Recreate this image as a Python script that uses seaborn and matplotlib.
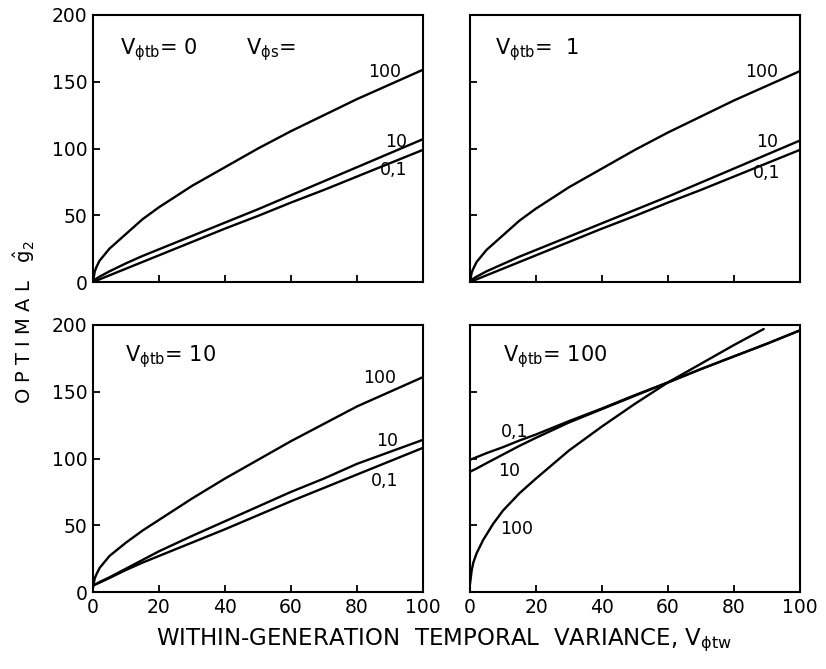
import numpy as np
import pandas as pd
import seaborn as sns
import matplotlib.pyplot as plt

sns.set_theme(style="ticks")
plt.rcParams['font.family'] = ['DejaVu Sans']
plt.rcParams['mathtext.fontset'] = 'dejavusans'
plt.rcParams['text.color'] = 'black'

# shared V_phi_tw grid
vtw = [0, 0.5, 1, 2, 5, 10, 15, 20, 30, 40, 50, 60, 70, 80, 90, 100]

# V_phi_tb = 0
tb0_s01 = [0, 0.5, 1, 2, 5, 10, 15, 20, 30, 40, 49.5, 59.5, 69, 79, 89, 99]
tb0_s10 = [0, 1.5, 2.5, 4, 8, 14, 19.5, 24.5, 34.5, 44.5, 54.5, 65, 75.5, 86, 96.5, 107]
tb0_s100 = [0, 7.5, 11, 16, 25, 36, 47, 56, 72, 86, 100, 113, 125, 137, 148, 159]

# V_phi_tb = 1
tb1_s01 = [0, 0.5, 1, 2, 5, 10, 15, 20, 30, 40, 49.5, 59.5, 69, 79, 89, 99]
tb1_s10 = [0, 1.5, 2.5, 4, 8, 13.5, 19, 24, 34, 44, 54, 64, 74.5, 85, 95.5, 106]
tb1_s100 = [0, 7, 10, 15, 24, 35, 46, 55, 71, 85, 99, 112, 124, 136, 147, 158]

# V_phi_tb = 10
tb10_s01 = [5, 5.5, 6, 7, 10.5, 16.5, 22, 27, 37, 47, 57.5, 68, 78, 88, 98, 108]
tb10_s10 = [5, 5.5, 6, 7.5, 11, 17.5, 24, 30.5, 42, 53, 64, 75, 85, 96, 105, 114]
tb10_s100 = [3, 10, 13, 18, 27, 37, 46, 54, 70, 85, 99, 113, 126, 139, 150, 161]

# V_phi_tb = 100
tb100_s01 = [99, 99.5, 100, 101, 104, 108.5, 113.5, 118, 128, 137.5, 147.5, 157, 167, 176.5, 186, 196]
tb100_s10 = [90, 90.7, 91.3, 92.5, 96.5, 103, 109.5, 115.5, 127, 137, 147, 157, 167, 176.5, 186, 196]
vtw_tb100_s100 = [0, 0.5, 1, 2, 4, 7, 10, 15, 20, 30, 40, 50, 60, 70, 80, 89]
tb100_s100 = [6, 16, 22, 29, 39, 51, 61, 74, 85, 106, 124, 141, 157, 171, 185, 197]

panel_titles = ["0", " 1", "10", "100"]
curve_names = ["0,1", "10", "100"]

panels = [
    [(vtw, tb0_s01), (vtw, tb0_s10), (vtw, tb0_s100)],
    [(vtw, tb1_s01), (vtw, tb1_s10), (vtw, tb1_s100)],
    [(vtw, tb10_s01), (vtw, tb10_s10), (vtw, tb10_s100)],
    [(vtw, tb100_s01), (vtw, tb100_s10), (vtw_tb100_s100, tb100_s100)],
]

# label spots (x, y) per curve, per panel
label_pos = [
    [(91, 84), (92, 105), (88.5, 157)],
    [(90, 82), (90, 105), (88.5, 157)],
    [(88.5, 83), (89, 113), (87, 160)],
    [(13.6, 120), (12, 91), (14, 47.5)],
]
title_pos = [(8.2, 174), (7.6, 174), (9.7, 176), (10, 176)]

W, H = 826, 669
fig = plt.figure(figsize=(W / 100, H / 100), dpi=100)
boxes = [(93, 15, 330, 267), (470, 15, 330, 267),
         (93, 325, 330, 267), (470, 325, 330, 267)]

for i, (l, t, w, h) in enumerate(boxes):
    ax = fig.add_axes([l / W, (H - t - h) / H, w / W, h / H])
    for (xs, ys) in panels[i]:
        sns.lineplot(x=xs, y=ys, ax=ax, color="black", linewidth=1.7)
    ax.set_xlim(0, 100)
    ax.set_ylim(0, 200)
    ax.set_xticks([0, 20, 40, 60, 80, 100])
    ax.set_yticks([0, 50, 100, 150, 200])
    ax.tick_params(direction="in", length=5, width=1.3, labelsize=13.5,
                   colors="black", pad=4)
    for s in ax.spines.values():
        s.set_linewidth(1.5)
        s.set_color("black")
    if i < 2:
        ax.set_xticklabels([])
    if i % 2 == 1:
        ax.set_yticklabels([])
    for name, (lx, ly) in zip(curve_names, label_pos[i]):
        ax.text(lx, ly, name, ha="center", va="center", fontsize=12.5)
    tx, ty = title_pos[i]
    ax.text(tx, ty, r"V$_{\mathregular{ϕtb}}$= " + panel_titles[i],
            ha="left", va="center", fontsize=15)
    if i == 0:
        ax.text(46.4, 174, r"V$_{\mathregular{ϕs}}$=", ha="left",
                va="center", fontsize=15)

fig.text(24 / W, 1 - 322 / H, r"O P T I M A L   $\mathregular{\hat{g}_2}$",
         rotation=90, ha="center", va="center", fontsize=14)
fig.text(444 / W, 1 - 640 / H,
         r"WITHIN-GENERATION  TEMPORAL  VARIANCE, V$_{\mathregular{ϕtw}}$",
         ha="center", va="center", fontsize=16.5)

fig.savefig("out.png", dpi=100, facecolor="white")
